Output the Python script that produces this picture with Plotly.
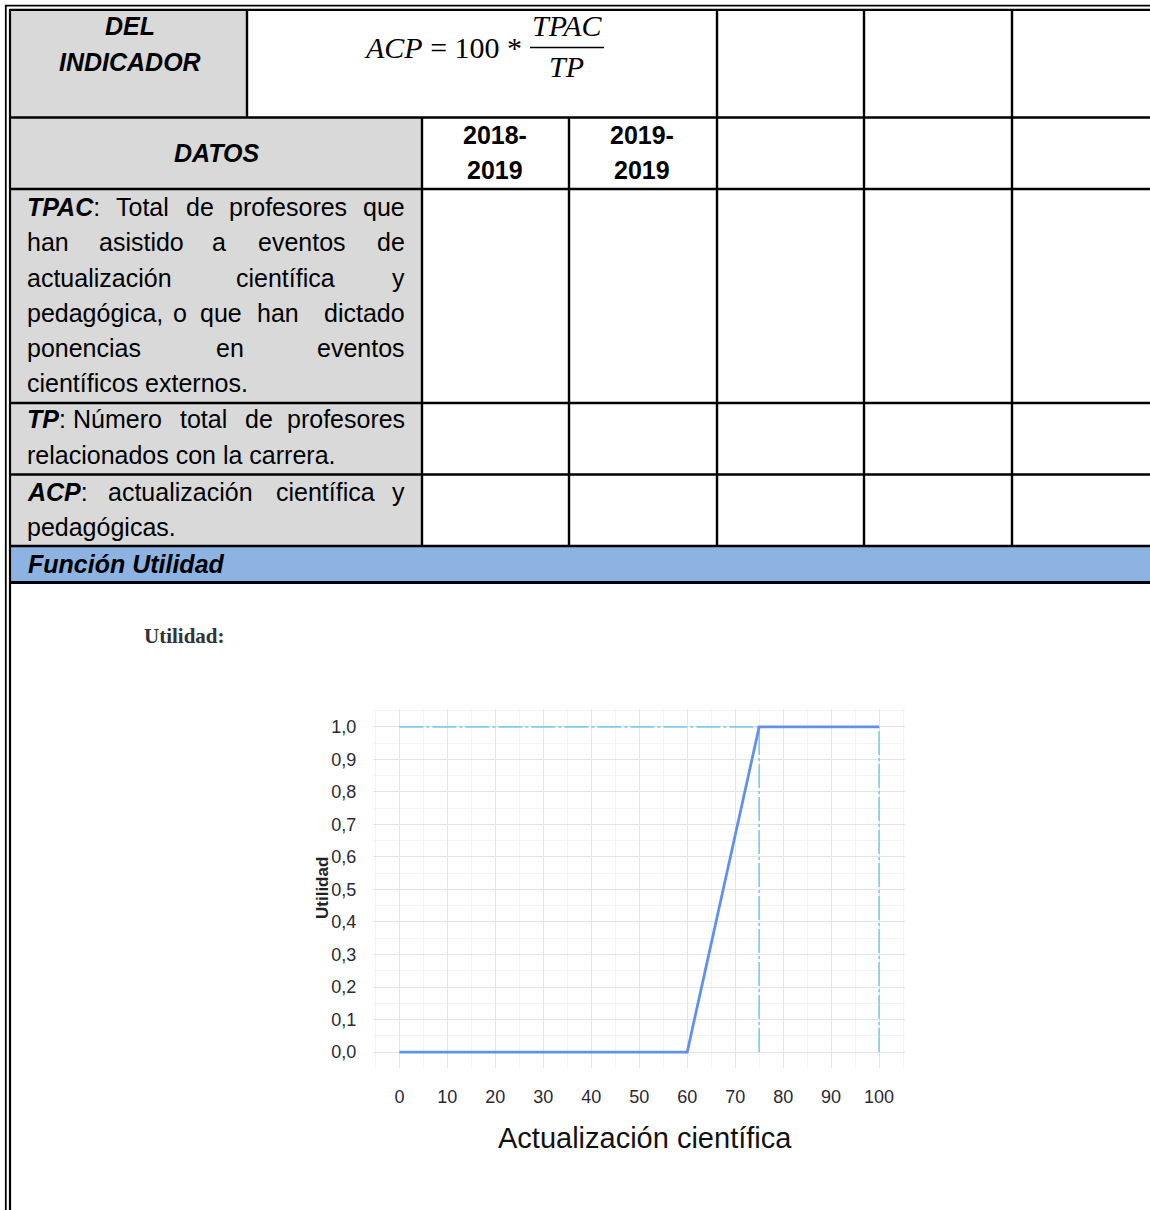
import plotly.graph_objects as go

W, H = 1150, 1210

# ---------------- chart data ----------------
util_x = [0, 60, 75, 100]
util_y = [0, 0, 1, 1]
ref_h_x = [0, 100]
ref_h_y = [1, 1]
ref_v1_x = [75, 75]
ref_v1_y = [0, 1]
ref_v2_x = [100, 100]
ref_v2_y = [0, 1]
x_tick_vals = [0, 10, 20, 30, 40, 50, 60, 70, 80, 90, 100]
y_tick_vals = [0.0, 0.1, 0.2, 0.3, 0.4, 0.5, 0.6, 0.7, 0.8, 0.9, 1.0]
y_tick_text = ["0,0", "0,1", "0,2", "0,3", "0,4", "0,5", "0,6", "0,7", "0,8", "0,9", "1,0"]

# ---------------- table text ----------------
period_labels = [("2018-", "2019"), ("2019-", "2019")]
x_title = "Actualización científica"
y_title = "Utilidad"

SANS = "Liberation Sans, Arial, sans-serif"
SERIF = "Liberation Serif, Times New Roman, serif"


def px(x):
    return x / W


def py(y):
    return 1 - y / H


shapes = []
annotations = []


def rect(x0, y0, x1, y1, color):
    shapes.append(dict(type="rect", xref="paper", yref="paper",
                       x0=px(x0), x1=px(x1), y0=py(y0), y1=py(y1),
                       fillcolor=color, line=dict(width=0), layer="below"))


def line(x0, y0, x1, y1, w=2.4, color="black"):
    shapes.append(dict(type="line", xref="paper", yref="paper",
                       x0=px(x0), x1=px(x1), y0=py(y0), y1=py(y1),
                       line=dict(color=color, width=w), layer="above"))


def text(t, x, y, anchor="left", size=25, family=SANS, color="black", angle=0):
    annotations.append(dict(text=t, x=px(x), y=py(y), xref="paper", yref="paper",
                            xanchor=anchor, yanchor="middle", showarrow=False,
                            textangle=angle,
                            font=dict(size=size, family=family, color=color)))


GREY = "#d9d9d9"
BLUE = "#8db3e2"

# fills
rect(11, 11, 247, 117, GREY)
rect(11, 118, 422, 546, GREY)
rect(11, 547, W, 582, BLUE)

# outer double borders
line(5, 5.6, W, 5.6, w=1.6)
line(9.5, 9.8, W, 9.8, w=2.2)
line(5.8, 5, 5.8, H, w=1.8)
line(10, 9, 10, H, w=2.2)

# horizontal row lines
for yy in [117.5, 189, 403, 474.5, 546]:
    line(10, yy, W, yy, w=2.4)
line(10, 582.5, W, 582.5, w=2.8)

# vertical lines
line(247, 10, 247, 117.5)
for xx in [717, 864, 1012]:
    line(xx, 10, xx, 546)
for xx in [422, 569]:
    line(xx, 117.5, xx, 546)

# header texts
text("<b><i>DEL</i></b>", 130, 26, "center")
text("<b><i>INDICADOR</i></b>", 130, 62, "center")
text("<b><i>DATOS</i></b>", 217, 153, "center")
for (a, b), cx in zip(period_labels, [495, 642]):
    text("<b>" + a + "</b>", cx, 135, "center")
    text("<b>" + b + "</b>", cx, 170, "center")

# formula
text("<i>ACP</i> = 100 *", 524, 47, "right", size=30, family=SERIF)
text("<i>TPAC</i>", 567, 25, "center", size=30, family=SERIF)
text("<i>TP</i>", 566, 67, "center", size=30, family=SERIF)
line(530, 47.5, 604, 47.5, w=1.3)

# body lines (justified word placement)
body = [
    (207, [("<b><i>TPAC</i></b>:", 25, "left"), ("Total", 142, "center"), ("de", 200, "center"),
           ("profesores", 288, "center"), ("que", 407, "right")]),
    (242, [("han", 25, "left"), ("asistido", 141, "center"), ("a", 219, "center"),
           ("eventos", 302, "center"), ("de", 407, "right")]),
    (278, [("actualización", 25, "left"), ("científica", 285, "center"), ("y", 407, "right")]),
    (313, [("pedagógica,", 25, "left"), ("o", 180, "center"), ("que", 221, "center"),
           ("han", 278, "center"), ("dictado", 407, "right")]),
    (348, [("ponencias", 25, "left"), ("en", 230, "center"), ("eventos", 407, "right")]),
    (383, [("científicos externos.", 25, "left")]),
    (419, [("<b><i>TP</i></b>:", 25, "left"), ("Número", 117, "center"), ("total", 203, "center"),
           ("de", 259, "center"), ("profesores", 407, "right")]),
    (455, [("relacionados con la carrera.", 25, "left")]),
    (492, [("<b><i>ACP</i></b>:", 25, "left"), ("actualización", 180, "center"),
           ("científica", 325, "center"), ("y", 407, "right")]),
    (527, [("pedagógicas.", 25, "left")]),
]
for yy, words in body:
    for w_, xx, anc in words:
        text(w_, xx, yy, anc)

text("<b><i>Función Utilidad</i></b>", 26, 564, "left")

# chart labels
text("<b>Utilidad:</b>", 142, 636, "left", size=21, family=SERIF, color="#333333")
text("<b>" + y_title + "</b>", 322, 888, "center", size=17, family=SANS, color="#222222", angle=-90)
text(x_title, 645, 1138, "center", size=29, family=SANS, color="#111111")

# ---------------- figure ----------------
fig = go.Figure()
dash_style = "24px,3px,3px,3px"
ref_color = "#7ccbea"
fig.add_trace(go.Scatter(x=ref_h_x, y=ref_h_y, mode="lines",
                         line=dict(color=ref_color, width=1.6, dash=dash_style), hoverinfo="skip"))
fig.add_trace(go.Scatter(x=ref_v1_x, y=ref_v1_y, mode="lines",
                         line=dict(color=ref_color, width=1.6, dash=dash_style), hoverinfo="skip"))
fig.add_trace(go.Scatter(x=ref_v2_x, y=ref_v2_y, mode="lines",
                         line=dict(color=ref_color, width=1.6, dash=dash_style), hoverinfo="skip"))
fig.add_trace(go.Scatter(x=util_x, y=util_y, mode="lines",
                         line=dict(color="#6192ea", width=2.8), hoverinfo="skip"))

fig.update_layout(
    width=W, height=H,
    margin=dict(l=0, r=0, t=0, b=0),
    paper_bgcolor="white", plot_bgcolor="white",
    showlegend=False,
    shapes=shapes, annotations=annotations,
    xaxis=dict(domain=[px(373), px(905)], range=[-5.5, 105.4],
               tickvals=x_tick_vals, ticks="outside", ticklen=12, tickcolor="rgba(0,0,0,0)",
               tickfont=dict(size=18, family=SANS, color="#2a2a33"),
               showgrid=True, gridcolor="#e4e4e4", gridwidth=1.3, zeroline=False,
               showline=False, fixedrange=True,
               minor=dict(dtick=5, showgrid=True, gridcolor="#f3f3f3", gridwidth=1)),
    yaxis=dict(domain=[py(1068), py(709)], range=[-0.049, 1.055],
               tickvals=y_tick_vals, ticktext=y_tick_text,
               ticks="outside", ticklen=12, tickcolor="rgba(0,0,0,0)",
               tickfont=dict(size=18, family=SANS, color="#2a2a33"),
               showgrid=True, gridcolor="#e4e4e4", gridwidth=1.3, zeroline=False,
               showline=False, fixedrange=True,
               minor=dict(dtick=0.05, tick0=0, showgrid=True, gridcolor="#f3f3f3", gridwidth=1)),
)

fig.write_html(
    "out.html",
    config={"displayModeBar": False},
    post_script="document.body.style.margin='0';document.body.style.overflow='hidden';",
)
